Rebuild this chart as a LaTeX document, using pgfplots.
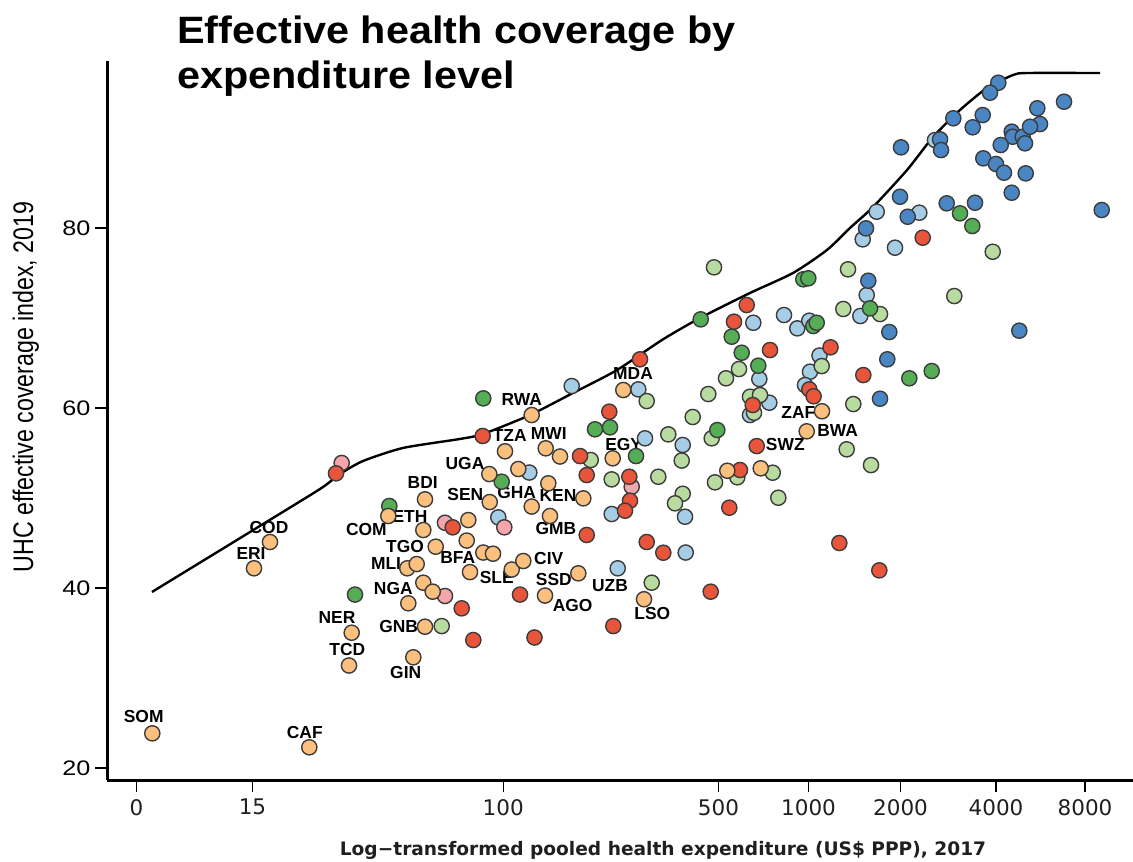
\documentclass[border=0pt]{standalone}
\usepackage{graphicx}
\usepackage{pgfplots}
\pgfplotsset{compat=1.18}
\usepackage{fontspec}
\setmainfont{Liberation Sans}
\newfontfamily\titlefont[FakeStretch=1.085]{Liberation Sans}
\newfontfamily\ytickfont[FakeStretch=1.2]{Liberation Sans}
\newfontfamily\dvfont{DejaVu Sans}

\definecolor{cOr}{HTML}{FCC07E}
\definecolor{cRe}{HTML}{E8553A}
\definecolor{cPk}{HTML}{F4A6AA}
\definecolor{cLg}{HTML}{B8DCA0}
\definecolor{cGr}{HTML}{55AE55}
\definecolor{cLb}{HTML}{A6CDE6}
\definecolor{cBl}{HTML}{4A86C4}
\definecolor{cEdge}{HTML}{3C3C3C}

\pgfplotsset{pt/.style={only marks, mark=*, mark size=3.8pt,
  mark options={fill=#1, draw=cEdge, line width=0.7pt}}}
\tikzset{cc/.style={font=\bfseries\fontsize{8.7}{10}\selectfont, inner sep=0pt, anchor=center}}

\begin{document}
\begin{tikzpicture}
\useasboundingbox (-53.5pt,-40.5pt) rectangle (513pt,390pt);
\begin{axis}[
  at={(0pt,0pt)}, anchor=south west,
  scale only axis, width=513pt, height=359.5pt,
  xmin=107, xmax=1133, ymin=18.667, ymax=98.556,
  axis x line*=bottom, axis y line*=left,
  axis line style={line width=1.5pt, black},
  tick align=outside, tick pos=left,
  major tick length=6pt,
  every tick/.style={black, line width=0.6pt},
  xtick={136.4,252.5,503.2,718.5,808.5,900.5,996,1085},
  xticklabels={0,15,100,500,1000,2000,4000,8000},
  ytick={20,40,60,80},
  /pgf/number format/assume math mode=true,
  xticklabel style={font=\dvfont\fontsize{10.75}{12}\selectfont, text=black!88},
  yticklabel style={font=\ytickfont\fontsize{10.5}{12}\selectfont, xshift=1.2pt},
  clip=false,
]
% frontier
\addplot[black, line width=1.2pt, smooth, tension=0.4] coordinates {
(152,39.56) (250,46.22) (320,51.00) (340,52.67) (363,54.11) (403,55.56)
(460,56.56) (483,57.11) (530,59.22) (573,61.67) (617,64.22) (662,67.56)
(700,70.00) (750,72.78) (793,75.00) (827,77.56) (850,80.00) (873,82.33)
(907,86.44) (933,90.11) (960,93.11) (987,95.56) (1013,97.00) (1027,97.22) (1100,97.22)};
% light blue
\addplot[pt=cLb] coordinates {
(529.3,52.83) (498.3,47.85) (571.7,62.44) (638.3,62.07) (645,56.63) (682.7,55.89)
(611.7,48.22) (685,47.92) (685.7,43.94) (617.7,42.19) (866.7,72.55) (860.3,70.22)
(753.3,69.47) (784,70.33) (797.3,68.85) (809.3,69.70) (819.5,65.83) (759.3,63.22)
(810,64.03) (805,62.55) (769.3,60.59) (750,59.22) (876.7,81.81) (919.3,81.70)
(862.7,78.74) (895,77.81) (935,89.77)};
% blue
\addplot[pt=cBl] coordinates {
(868.3,74.14) (889.3,68.44) (887.3,65.41) (880,61.03) (998.3,96.14) (990,95.03)
(1064,94.03) (1037.3,93.30) (1040,91.55) (953.3,92.19) (982.7,92.55) (972.7,91.19)
(1011.7,90.70) (1012.7,90.14) (1022.7,90.14) (1030,91.25) (1025,89.41) (901,88.96)
(940,89.85) (941,88.66) (1000.7,89.22) (983.3,87.74) (996,87.11) (1004,86.14)
(1025.7,86.07) (1011.7,83.92) (900,83.47) (946.7,82.74) (975,82.81) (907.7,81.25)
(1101.7,82.00) (866,79.96) (1019.3,68.59)};
% light green
\addplot[pt=cLg] coordinates {
(441.7,35.77) (646.7,60.77) (692.7,59.00) (668.3,57.07) (590.7,54.22) (681.7,54.16)
(611.7,52.07) (658.3,52.36) (682.7,50.47) (675,49.41) (651.7,40.59) (714,75.63)
(848,75.41) (843.3,71.00) (880,70.44) (821.7,64.66) (739,64.33) (726,63.30)
(708.3,61.55) (750,61.25) (760,61.44) (754,59.47) (853.3,60.44) (711.7,56.63)
(846.7,55.41) (737.3,52.30) (772.7,52.81) (871,53.66) (715,51.74) (778.3,50.03)
(992.7,77.36) (954.3,72.44)};
% green
\addplot[pt=cGr] coordinates {
(389.3,49.11) (355,39.27) (501.7,51.81) (483.3,61.07) (595,57.63) (610,57.85)
(636,54.66) (803.3,74.30) (808.3,74.41) (870,71.07) (700.7,69.85) (813.3,69.11)
(816.7,69.47) (731.7,67.92) (741.7,66.14) (758.3,64.70) (717.3,57.55) (909.3,63.30)
(931.7,64.11) (960,81.63) (972.3,80.22)};
% pink
\addplot[pt=cPk] coordinates {
(341.7,53.89) (445,47.25) (504.3,46.74) (445,39.11) (631.7,51.25)};
% red
\addplot[pt=cRe] coordinates {
(336,52.74) (452.7,46.74) (461.7,37.74) (473.3,34.22) (520,39.27) (534.5,34.50)
(482.7,56.89) (640,65.41) (609.3,59.59) (580,54.66) (586.7,52.55) (629.3,52.36)
(630,49.70) (625,48.59) (586.7,45.89) (646.7,45.11) (663.3,43.92) (613.3,35.77)
(746.7,71.44) (734,69.59) (770,66.44) (830.5,66.74) (863.3,63.66) (752.7,60.33)
(809.3,62.07) (813.6,61.30) (756.7,55.77) (740,53.11) (729.3,48.92) (839.3,45.00)
(879.3,41.96) (710.7,39.59) (922.7,78.92)};
% orange
\addplot[pt=cOr] coordinates {
(152.3,23.85) (309.3,22.30) (270,45.11) (254,42.19) (351.7,35.03) (349,31.39)
(388.3,48.00) (425,49.85) (423.3,46.44) (468.3,47.55) (435.7,44.59) (466.7,45.27)
(483.3,43.94) (493,43.81) (407.3,42.19) (416.7,42.66) (470,41.77) (511.7,42.05)
(523.3,43.00) (423.3,40.59) (432.7,39.59) (408.3,38.30) (545,39.16) (425,35.70)
(413.3,32.30) (505,55.19) (545.7,55.52) (560,54.61) (489.3,52.66) (518.3,53.22)
(548.3,51.63) (489.7,49.55) (531.7,49.05) (550,48.00) (583.3,49.96) (578.3,41.63)
(612.7,54.41) (623.3,62.00) (531.7,59.22) (644,38.75) (727.3,53.03) (760.7,53.30)
(822,59.64) (806.7,57.41)};
% country labels
\node[cc] at (axis cs:143.7,25.70) {SOM};
\node[cc] at (axis cs:304.8,23.97) {CAF};
\node[cc] at (axis cs:269,46.74) {COD};
\node[cc] at (axis cs:251,43.78) {ERI};
\node[cc] at (axis cs:337,36.67) {NER};
\node[cc] at (axis cs:347.3,33.19) {TCD};
\node[cc] at (axis cs:422.7,51.70) {BDI};
\node[cc] at (axis cs:410,47.92) {ETH};
\node[cc] at (axis cs:366.3,46.52) {COM};
\node[cc] at (axis cs:405,44.59) {TGO};
\node[cc] at (axis cs:386,42.74) {MLI};
\node[cc] at (axis cs:393.3,39.97) {NGA};
\node[cc] at (axis cs:398.7,35.70) {GNB};
\node[cc] at (axis cs:405.7,30.63) {GIN};
\node[cc] at (axis cs:465,53.85) {UGA};
\node[cc] at (axis cs:465.3,50.44) {SEN};
\node[cc] at (axis cs:516.7,50.59) {GHA};
\node[cc] at (axis cs:558,50.33) {KEN};
\node[cc] at (axis cs:556,46.56) {GMB};
\node[cc] at (axis cs:457.7,43.40) {BFA};
\node[cc] at (axis cs:548.7,43.33) {CIV};
\node[cc] at (axis cs:496.7,41.19) {SLE};
\node[cc] at (axis cs:553.8,40.89) {SSD};
\node[cc] at (axis cs:572.7,38.11) {AGO};
\node[cc] at (axis cs:610,40.22) {UZB};
\node[cc] at (axis cs:652.3,37.18) {LSO};
\node[cc] at (axis cs:521.7,60.99) {RWA};
\node[cc] at (axis cs:509.7,56.89) {TZA};
\node[cc] at (axis cs:548.7,57.19) {MWI};
\node[cc] at (axis cs:633,63.85) {MDA};
\node[cc] at (axis cs:623.7,55.89) {EGY};
\node[cc] at (axis cs:798.3,59.48) {ZAF};
\node[cc] at (axis cs:837.7,57.48) {BWA};
\node[cc] at (axis cs:785.3,55.99) {SWZ};
\end{axis}
% title
\node[anchor=base west, inner sep=0pt, font=\titlefont\bfseries\fontsize{19.06}{22}\selectfont] at (34.85pt,368pt) {Effective health coverage by};
\node[anchor=base west, inner sep=0pt, font=\titlefont\bfseries\fontsize{19.06}{22}\selectfont] at (34.85pt,345.85pt) {expenditure level};
% y label
\node[rotate=90, anchor=base, inner sep=0pt, font=\fontsize{11.6}{13}\selectfont] at (-37pt,196.5pt) {\scalebox{1}[1.22]{UHC effective coverage index, 2019}};
% x label
\node[anchor=base, inner sep=0pt, font=\dvfont\bfseries\fontsize{9.3}{11}\selectfont, text=black!88] at (278pt,-37.5pt) {Log−transformed pooled health expenditure (US\$ PPP), 2017};
\end{tikzpicture}
\end{document}
